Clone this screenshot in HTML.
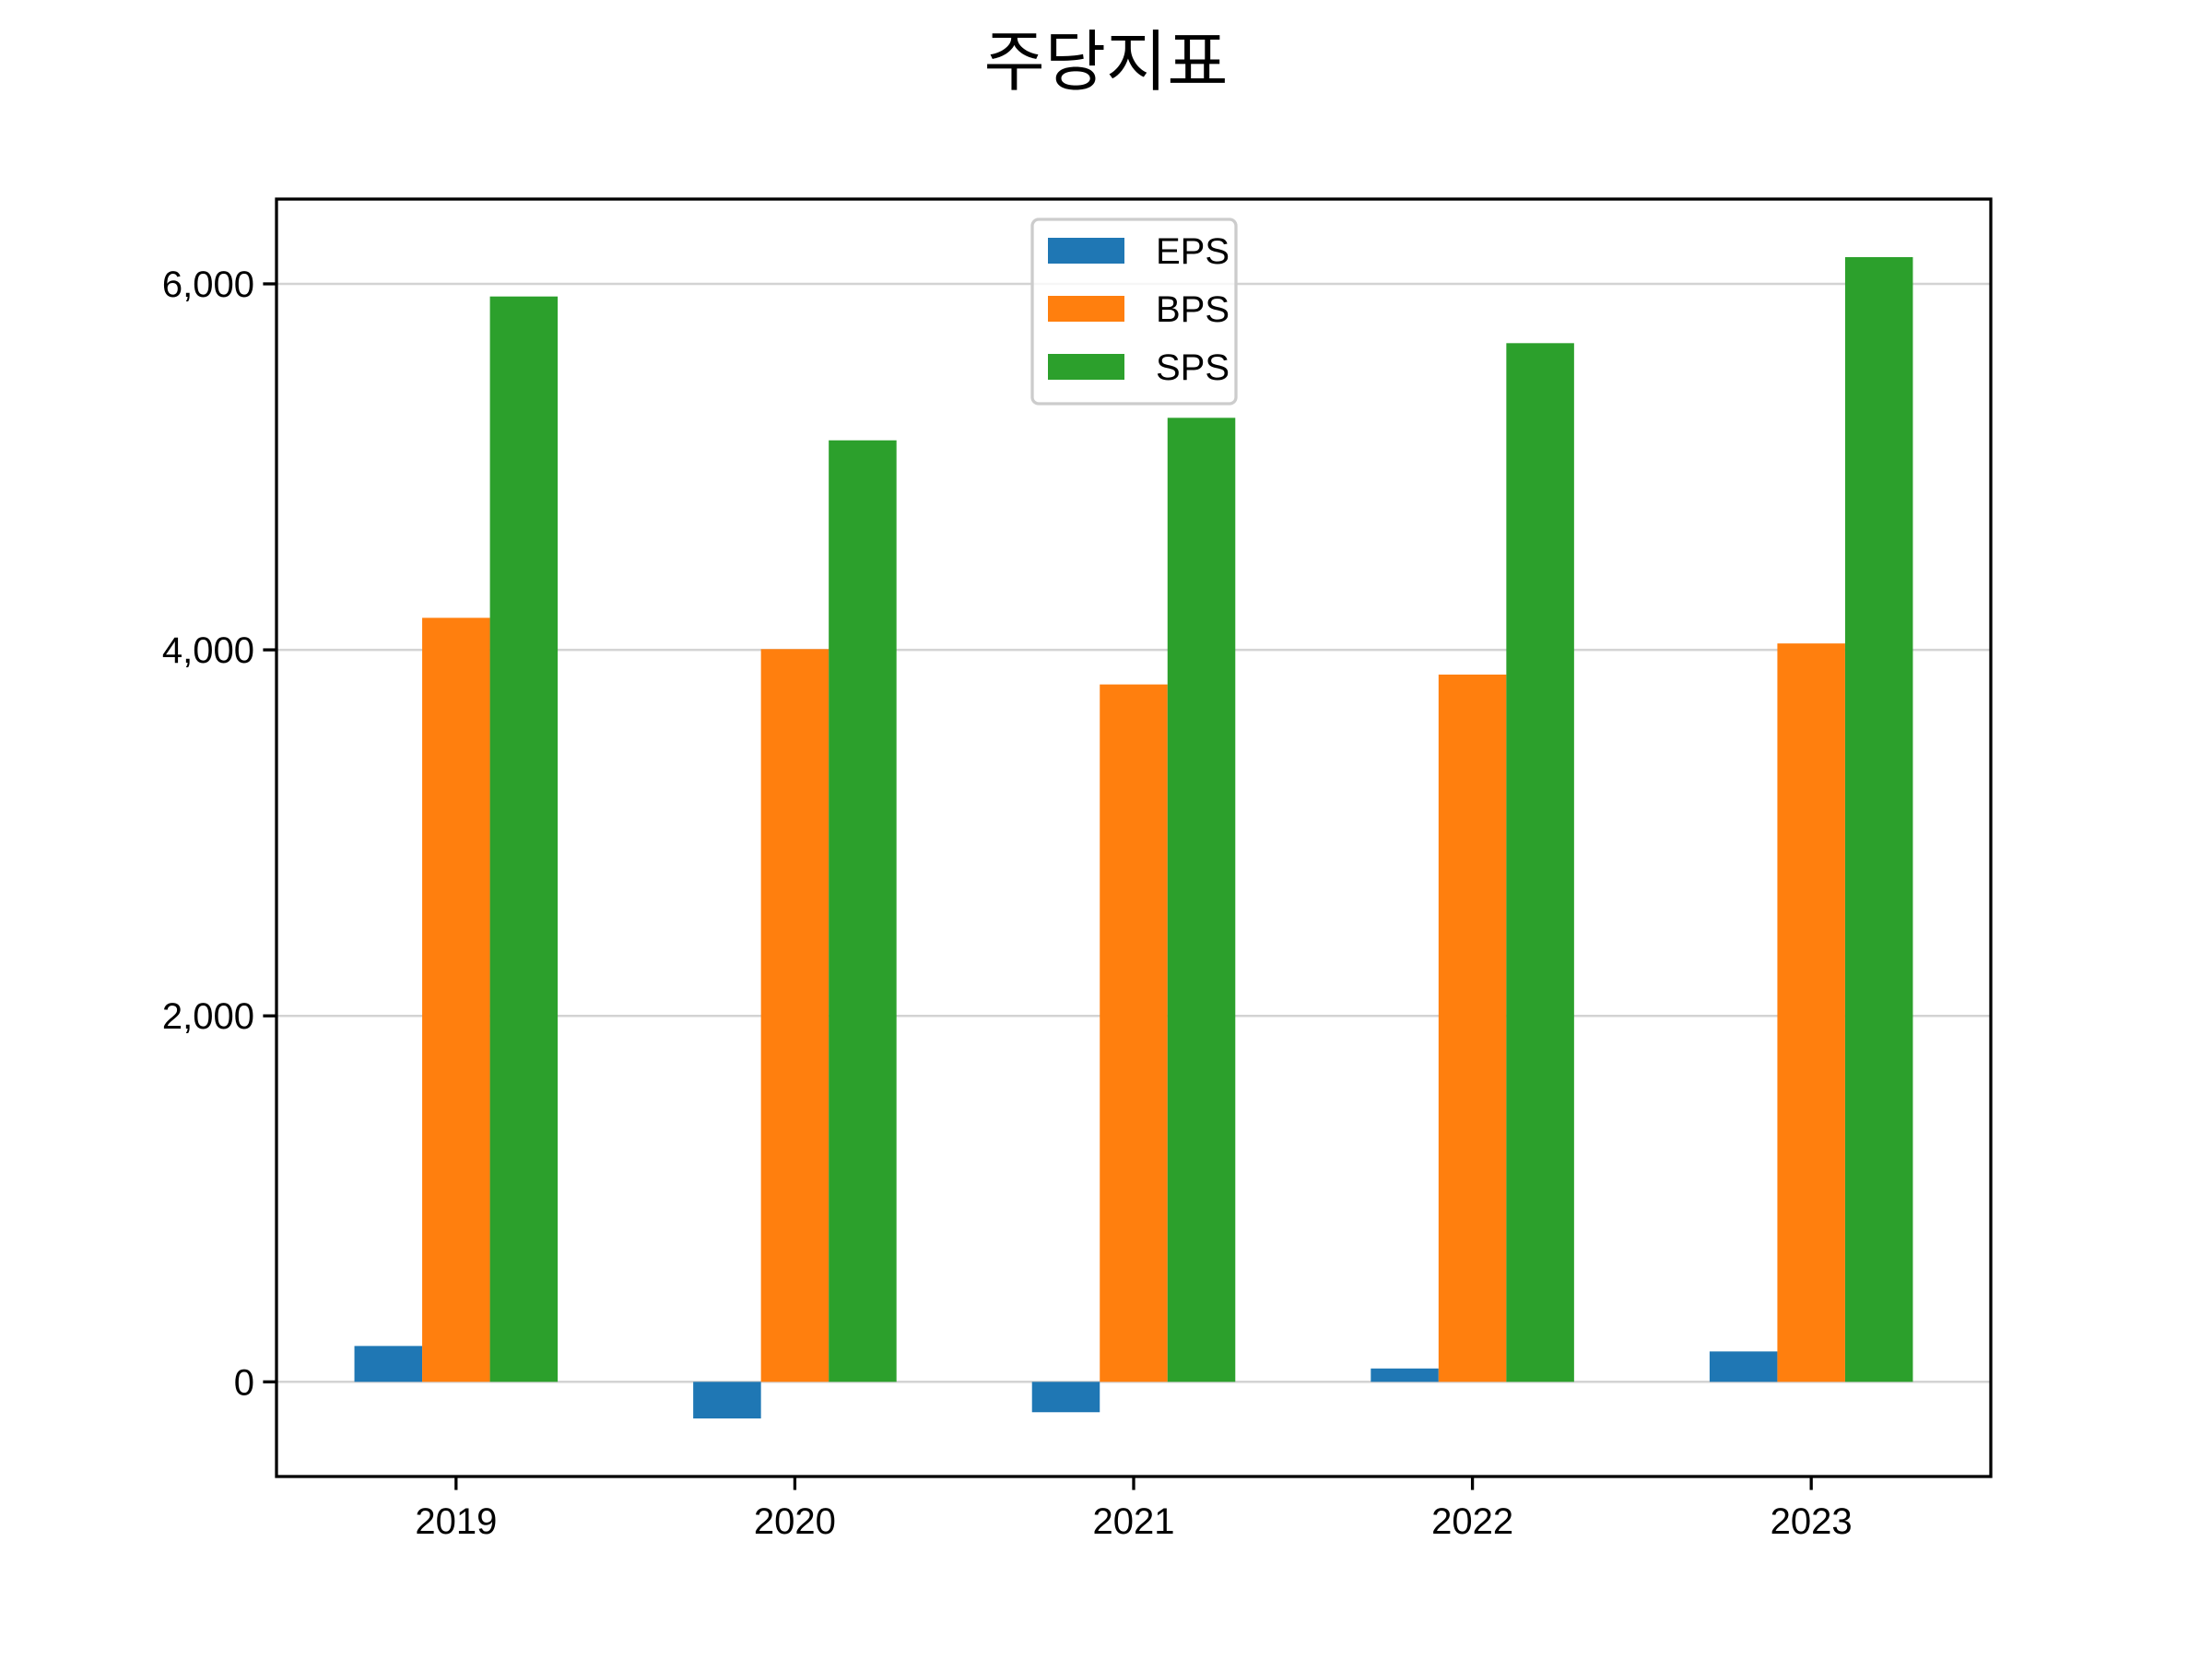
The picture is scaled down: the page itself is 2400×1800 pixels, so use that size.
<!DOCTYPE html>
<html><head><meta charset="utf-8"><style>
html,body{margin:0;padding:0;background:#fff;}
svg{display:block;font-family:"Liberation Sans","Noto Sans CJK KR",sans-serif;}
</style></head><body>
<svg id="chart" width="2400" height="1800" viewBox="0 0 2400 1800" xmlns="http://www.w3.org/2000/svg">
<rect width="2400" height="1800" fill="#fff"/>
<text x="1200" y="92" text-anchor="middle" font-size="72" font-family="'Noto Sans CJK KR',sans-serif">주당지표</text>
<g id="grid"></g>
<g id="bars"></g>
<g id="axes"></g>
<g id="legend"></g>
</svg>
<script>
const categories = ["2019","2020","2021","2022","2023"];
const seriesNames = ["EPS","BPS","SPS"];
const eps = [196,-200,-166,73,166];
const bps = [4175,4004,3811,3865,4035];
const sps = [5931,5145,5268,5676,6146];
const yTicks = [0,2000,4000,6000];
const yTickLabels = ["0","2,000","4,000","6,000"];
const colors = ["#1f77b4","#ff7f0e","#2ca02c"];
const NS="http://www.w3.org/2000/svg";
const L=300,R=2160,T=216,B=1602;
const allVals=eps.concat(bps,sps,[0]);
const dmin=Math.min(...allVals),dmax=Math.max(...allVals),span=dmax-dmin;
const y0=dmin-0.05*span,y1=dmax+0.05*span;
const n=categories.length,bw=0.2;
const x0=-0.3-0.05*(n-1+0.6),x1=n-1+0.3+0.05*(n-1+0.6);
function sx(v){return L+(v-x0)/(x1-x0)*(R-L);}
function sy(v){return B-(v-y0)/(y1-y0)*(B-T);}
function mk(tag,attrs,parent){const e=document.createElementNS(NS,tag);for(const k in attrs)e.setAttribute(k,attrs[k]);parent.appendChild(e);return e;}
const grid=document.getElementById('grid'),bars=document.getElementById('bars'),axes=document.getElementById('axes'),leg=document.getElementById('legend');
yTicks.forEach((t,i)=>{
  const g=mk('line',{x1:L,x2:R,y1:sy(t),y2:sy(t),stroke:'#d3d3d3','stroke-width':2.5},grid);
  
  
  const tk=mk('line',{x1:L-14.6,x2:L,y1:sy(t),y2:sy(t),stroke:'#000','stroke-width':3.3},axes);
  
  
  const tx=mk('text',{x:L-24,y:sy(t)+14,'text-anchor':'end','font-size':40},axes);
  tx.textContent=yTickLabels[i];
  
  
});
const data=[eps,bps,sps];
data.forEach((arr,s)=>{
  arr.forEach((v,i)=>{
    const c=i+(s-1)*bw;
    const xa=sx(c-bw/2),xb=sx(c+bw/2);
    const ya=sy(Math.max(v,0)),yb=sy(Math.min(v,0));
    const r=mk('rect',{x:xa,y:ya,width:xb-xa,height:yb-ya,fill:colors[s]},bars);
    
    
  });
});
categories.forEach((c,i)=>{
  const tk=mk('line',{x1:sx(i),x2:sx(i),y1:B,y2:B+14.6,stroke:'#000','stroke-width':3.3},axes);
  
  
  const tx=mk('text',{x:sx(i),y:1664,'text-anchor':'middle','font-size':40},axes);
  tx.textContent=c;
  
  
});
const fr=mk('rect',{x:L,y:T,width:R-L,height:B-T,fill:'none',stroke:'#000','stroke-width':3.3},axes);


const lb=mk('rect',{x:1120,y:238,width:221,height:200,rx:7,fill:'#fff','fill-opacity':0.8,stroke:'#ccc','stroke-width':3.3},leg);


seriesNames.forEach((nm,s)=>{
  const cy=272+s*63;
  const p=mk('rect',{x:1137,y:cy-14,width:83,height:28,fill:colors[s]},leg);
  
  
  const t=mk('text',{x:1254,y:cy+14,'font-size':40},leg);
  t.textContent=nm;
  
  
});
</script>
</body></html>
